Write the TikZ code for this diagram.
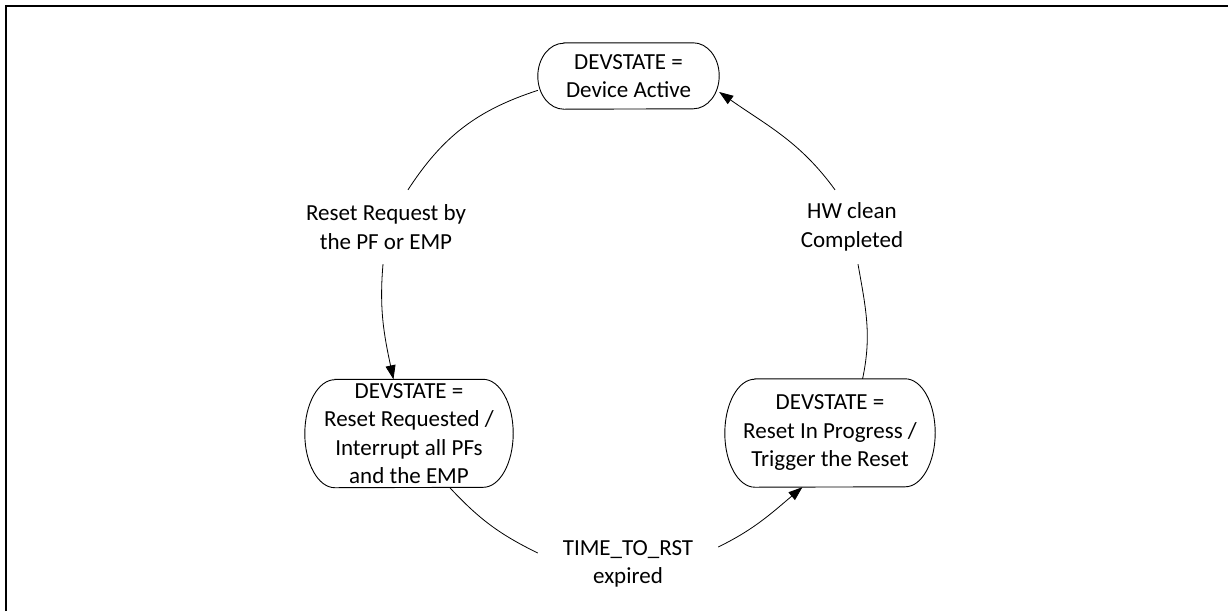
\documentclass[tikz,border=0pt]{standalone}
\usepackage{fontspec}
\setmainfont{Carlito}
\usetikzlibrary{arrows.meta}
\newcommand\stadiumborder[3]{%
  \draw[nodeline] ([xshift=#2pt]#1.north west) -- ([xshift=-#2pt]#1.north east)
    arc[start angle=90,end angle=-90,x radius=#2pt,y radius=#3pt]
    -- ([xshift=#2pt]#1.south west)
    arc[start angle=270,end angle=90,x radius=#2pt,y radius=#3pt] -- cycle;}
\begin{document}
\begin{tikzpicture}[x=1pt,y=1pt,
  every node/.style={font=\fontsize{23}{28.5}\selectfont, align=center, inner sep=0pt},
  statetop/.style={rectangle, minimum width=181pt, minimum height=66pt},
  statebig/.style={rectangle, minimum height=108pt},
  edgelabel/.style={rectangle, minimum width=180pt, minimum height=74pt},
  nodeline/.style={line width=0.9pt},
  conn/.style={line width=0.8pt},
  arr/.style={conn, -{Triangle[length=14pt,width=10pt]}}]
\useasboundingbox (0,0) rectangle (1230,-611);
\draw[line width=2pt] (6,-611) -- (6,-6) -- (1228,-6);

\node[statetop] (T) at (628.5,-76) {DEVSTATE =\\Device Active};
\node[statebig, minimum width=208pt] (L) at (409,-433.5) {DEVSTATE =\\Reset Requested /\\Interrupt all PFs\\and the EMP};
\node[statebig, minimum width=210pt] (R) at (830,-433) {DEVSTATE =\\Reset In Progress /\\Trigger the Reset};
\node[edgelabel] (la) at (386,-227) {Reset Request by\\the PF or EMP};
\node[edgelabel] (lb) at (628,-564) {TIME\_TO\_RST\\expired};
\node[edgelabel] (lc) at (852,-227) {HW clean\\Completed};

\stadiumborder{T}{26}{33}
\stadiumborder{L}{30}{54}
\stadiumborder{R}{30}{54}

\draw[conn] (T.189) to[out=198,in=57] ([xshift=22pt]la.north);
\draw[arr] ([xshift=-3pt]la.south) to[out=265,in=102] (L.106);
\draw[conn] (L.-53) to[out=313,in=154] ([yshift=11pt]lb.west);
\draw[arr] ([yshift=17pt]lb.east) to[out=26,in=220] (R.243);
\draw[conn] (R.59) to[out=78,in=-80] ([xshift=6pt]lc.south);
\draw[arr] ([xshift=-17pt]lc.north) to[out=126,in=325] (T.350);
\end{tikzpicture}
\end{document}
